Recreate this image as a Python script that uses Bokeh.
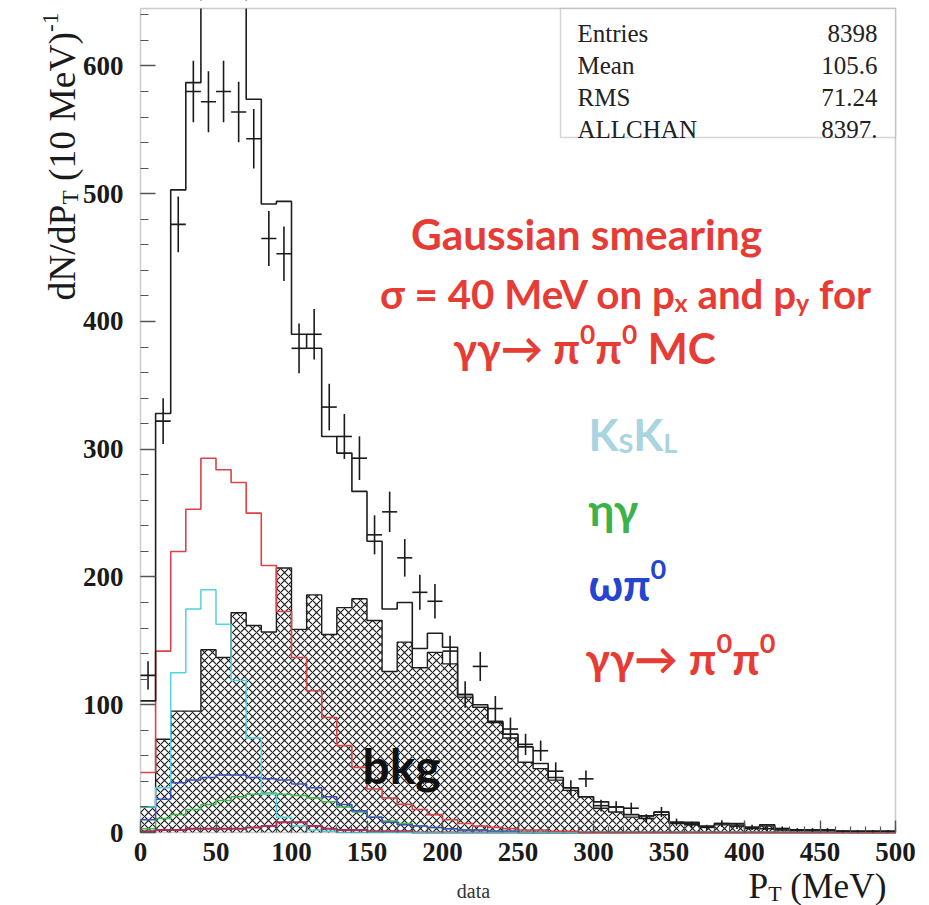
import glob, math, os, subprocess
from bokeh.plotting import figure
from bokeh.models import Label, BoxAnnotation, FixedTicker, Range1d
from bokeh.embed import file_html
from bokeh.resources import INLINE

# ---------------- data (10 MeV bins, 0..500 MeV) ----------------
bin_edges = list(range(0, 510, 10))

data_counts = [123, 322, 476, 580, 572, 580, 564, 543, 465, 453,
               379, 390, 333, 310, 293, 233, 251, 215, 188, 181,
               142, 108, 130, 97, 81, 69, 64, 48, 35, 42,
               21, 20, 19, 11, 16, 8, 6, 4, 7, 5,
               4, 3, 3, 2, 2, 2, 1, 1, 1, 1]

total_mc = [103, 328, 503, 587, 700, 670, 655, 574, 492, 494,
            390, 379, 310, 297, 267, 228, 175, 180, 144, 156,
            145, 108, 100, 87, 77, 67, 54, 43, 35, 28,
            24, 20, 14, 13, 16, 8, 8, 5, 7, 7,
            4, 6, 3, 2, 2, 2, 1, 1, 1, 1]

bkg = [20, 73, 95, 95, 143, 137, 172, 162, 157, 207,
       159, 186, 155, 176, 183, 166, 126, 149, 129, 141,
       132, 106, 98, 86, 74, 55, 50, 41, 33, 28,
       19, 16, 12, 13, 14, 7, 7, 4, 6, 6,
       3, 5, 2, 2, 1, 1, 1, 0, 0, 0]

gg_pi0pi0 = [47, 142, 220, 253, 293, 284, 274, 250, 209, 173,
             137, 111, 90, 68, 51, 34, 27, 22, 18, 14,
             10, 7, 5, 4, 3, 2, 2, 1, 1, 0,
             0, 0, 0, 0, 0, 0, 0, 0, 0, 0,
             0, 0, 0, 0, 0, 0, 0, 0, 0, 0]

ks_kl = [20, 35, 125, 175, 190, 163, 119, 74, 30, 12,
         5, 2, 1, 0, 0, 0, 0, 0, 0, 0,
         0, 0, 0, 0, 0, 0, 0, 0, 0, 0,
         0, 0, 0, 0, 0, 0, 0, 0, 0, 0,
         0, 0, 0, 0, 0, 0, 0, 0, 0, 0]

omega_pi0 = [10, 26, 39, 41, 43, 45, 45, 43, 42, 41,
             38, 35, 28, 22, 17, 12, 8, 6, 5, 4,
             3, 2, 2, 1, 1, 0, 0, 0, 0, 0,
             0, 0, 0, 0, 0, 0, 0, 0, 0, 0,
             0, 0, 0, 0, 0, 0, 0, 0, 0, 0]

eta_gamma = [3, 11, 14, 18, 22, 25, 28, 30, 31, 30,
             29, 27, 24, 20, 16, 12, 9, 7, 5, 4,
             3, 2, 2, 1, 1, 0, 0, 0, 0, 0,
             0, 0, 0, 0, 0, 0, 0, 0, 0, 0,
             0, 0, 0, 0, 0, 0, 0, 0, 0, 0]

other_bkg = [1, 2, 2, 3, 3, 3, 3, 4, 5, 8,
             8, 5, 3, 2, 2, 1, 1, 1, 0, 0,
             0, 0, 0, 0, 0, 0, 0, 0, 0, 0,
             0, 0, 0, 0, 0, 0, 0, 0, 0, 0,
             0, 0, 0, 0, 0, 0, 0, 0, 0, 0]

x_major_ticks = [0, 50, 100, 150, 200, 250, 300, 350, 400, 450, 500]
y_major_ticks = [0, 100, 200, 300, 400, 500, 600]
stats_names = ["Entries", "Mean", "RMS", "ALLCHAN"]
stats_values = ["8398", "105.6", "71.24", "8397."]

# ---------------- layout ----------------
W, H = 929, 905
FL, FR, FT, FB = 140, 34, 8, 73          # pixel position of the ROOT frame
FRAME_W = W - FL - FR
FRAME_H = H - FT - FB
X_LO, X_HI = 0, 500
Y_LO, Y_HI = 0, 645
XU = (X_HI - X_LO) / FRAME_W   # data units per pixel
YU = (Y_HI - Y_LO) / FRAME_H
X_START, X_END = X_LO - FL * XU, X_HI + FR * XU
Y_START, Y_END = Y_LO - FB * YU, Y_HI + FT * YU


def sx2x(sx):
    return X_START + sx * XU


def sy2y(sy):
    return Y_END - sy * YU


# ---------------- text measuring ----------------
FONT_FILES = {
    ("Lato", "bold"): ["Lato-Bold.ttf", "Lato-Bol.ttf"],
    ("Liberation Serif", "normal"): ["LiberationSerif-Regular.ttf"],
    ("Liberation Serif", "bold"): ["LiberationSerif-Bold.ttf"],
}
_font_cache = {}


def _font(family, style):
    key = (family, style)
    if key in _font_cache:
        return _font_cache[key]
    f = None
    try:
        from PIL import ImageFont
        path = None
        for name in FONT_FILES.get(key, []):
            for root in ["/usr/share/fonts", "/usr/local/share/fonts",
                         os.path.expanduser("~/.fonts"), os.path.expanduser("~/.local/share/fonts")]:
                hits = glob.glob(os.path.join(root, "**", name), recursive=True)
                if hits:
                    path = hits[0]
                    break
            if path:
                break
        if path is None:
            try:
                q = family + (":bold" if style == "bold" else "")
                path = subprocess.run(["fc-match", "-f", "%{file}", q], capture_output=True,
                                      text=True, timeout=5).stdout.strip() or None
            except Exception:
                path = None
        if path:
            f = ImageFont.truetype(path, 100)
    except Exception:
        f = None
    _font_cache[key] = f
    return f


def measure(text, family, style, size):
    f = _font(family, style)
    if f is not None:
        try:
            return f.getlength(text) * size / 100.0
        except Exception:
            pass
    return sum(0.27 if c == " " else 0.55 for c in text) * size


p = figure(width=W, height=H, min_border=0,
           x_range=Range1d(X_START, X_END), y_range=Range1d(Y_START, Y_END),
           output_backend="svg", toolbar_location=None,
           background_fill_color="white", border_fill_color="white")
p.outline_line_color = None

SUB = 0.62


def psize(size, kind):
    return size * SUB if kind in ("sub", "sup") else size


def rich_width(pieces, family, style, size):
    return sum(measure(t, family, style, psize(size, k)) for t, k in pieces)


def rich(pieces, sx, sy, size, family, style, color, vertical=False):
    cur = 0.0
    for t, k in pieces:
        s = psize(size, k)
        shift = 0.20 * size if k == "sub" else (-0.31 * size if k == "sup" else 0.0)
        core = t.strip()
        lead = t[:len(t) - len(t.lstrip())]
        off = measure(lead, family, style, s) if lead else 0.0
        if vertical:
            ax, ay, ang = sx + shift, sy - cur - off, math.pi / 2
        else:
            ax, ay, ang = sx + cur + off, sy + shift, 0.0
        if core:
            p.add_layout(Label(x=sx2x(ax), y=sy2y(ay), text=core, angle=ang,
                               text_font=family, text_font_style=style,
                               text_font_size=f"{s:.1f}px", text_color=color,
                               text_align="left", text_baseline="alphabetic"))
        cur += measure(t, family, style, s)


def fit(pieces, family, style, target, base):
    w = rich_width(pieces, family, style, base)
    return base * target / w if w > 0 else base


# ---------------- histograms ----------------
centers = [e + 5 for e in bin_edges[:-1]]


def step(vals, color, width):
    p.step(x=bin_edges, y=list(vals) + [vals[-1]], mode="after",
           line_color=color, line_width=width)


p.vbar(x=centers, width=10, top=bkg, bottom=0, fill_color=None, line_color=None,
       hatch_pattern="x", hatch_scale=8, hatch_weight=1.15, hatch_color="#1a1a1a")
step(bkg, "#1e1e1e", 1.4)
step(other_bkg, "#b02a5a", 2.0)
step(eta_gamma, "#3dbb4a", 1.5)
step(omega_pi0, "#3a4fc0", 1.5)
step(ks_kl, "#52d4da", 1.5)
step(gg_pi0pi0, "#d9434a", 1.6)
step(total_mc, "#1e1e1e", 1.6)

lo = bin_edges[:-1]
hi = bin_edges[1:]
keep = [i for i, v in enumerate(data_counts) if v > 0]
p.segment(x0=[lo[i] for i in keep], x1=[hi[i] for i in keep],
          y0=[data_counts[i] for i in keep], y1=[data_counts[i] for i in keep],
          line_color="#1a1a1a", line_width=1.6)
p.segment(x0=[centers[i] for i in keep], x1=[centers[i] for i in keep],
          y0=[data_counts[i] - math.sqrt(data_counts[i]) for i in keep],
          y1=[data_counts[i] + math.sqrt(data_counts[i]) for i in keep],
          line_color="#1a1a1a", line_width=1.6)

# mask anything that overshoots the top of the frame
p.add_layout(BoxAnnotation(left=X_START, right=X_END, bottom=Y_HI, top=Y_END,
                           fill_color="white", fill_alpha=1.0, line_color=None))
# frame
p.add_layout(BoxAnnotation(left=X_LO, right=X_HI, bottom=Y_LO, top=Y_HI,
                           fill_alpha=0.0, line_color="#555555", line_width=1.5))

# ---------------- axes ----------------
p.xgrid.visible = False
p.ygrid.visible = False
p.xaxis.fixed_location = 0
p.yaxis.fixed_location = 0
p.xaxis.ticker = FixedTicker(ticks=x_major_ticks, minor_ticks=list(range(0, 501, 10)))
p.yaxis.ticker = FixedTicker(ticks=y_major_ticks, minor_ticks=list(range(0, 645, 20)))
for ax in (p.xaxis[0], p.yaxis[0]):
    ax.axis_line_color = None
    ax.major_tick_line_color = "#555555"
    ax.minor_tick_line_color = "#555555"
    ax.major_tick_line_width = 1.4
    ax.minor_tick_line_width = 1.2
    ax.major_tick_out = 0
    ax.minor_tick_out = 0
    ax.major_label_text_font = "Liberation Serif"
    ax.major_label_text_font_style = "bold"
    ax.major_label_text_font_size = "27px"
    ax.major_label_text_color = "#1a1a1a"
p.xaxis.major_tick_in = 12
p.xaxis.minor_tick_in = 6
p.yaxis.major_tick_in = 15
p.yaxis.minor_tick_in = 8
p.xaxis.major_label_standoff = 10
p.yaxis.major_label_standoff = 17

# axis titles
ylab = [("dN/dP", "n"), ("T", "sub"), (" (10 MeV)", "n"), ("-1", "sup")]
ys = fit(ylab, "Liberation Serif", "normal", 288, 36)
ys = max(30, min(ys, 40))
rich(ylab, 62, 300, ys, "Liberation Serif", "normal", "#1a1a1a", vertical=True)

xlab = [("P", "n"), ("T", "sub"), (" (MeV)", "n")]
xs = fit(xlab, "Liberation Serif", "normal", 138, 36)
xs = max(30, min(xs, 42))
rich(xlab, 748, 886, xs, "Liberation Serif", "normal", "#1a1a1a")

p.add_layout(Label(x=sx2x(473), y=sy2y(890), text="data", text_font="Liberation Serif",
                   text_font_size="20px", text_color="#333333", text_align="center",
                   text_baseline="alphabetic"))

# ---------------- stats box ----------------
p.add_layout(BoxAnnotation(left=sx2x(560), right=X_HI, top=Y_HI, bottom=sy2y(137),
                           fill_color="white", fill_alpha=1.0, line_color="#777777",
                           line_width=1.5))
for i, (nm, vl) in enumerate(zip(stats_names, stats_values)):
    base = 33 + i * 32
    p.add_layout(Label(x=sx2x(577), y=sy2y(base), text=nm, text_font="Liberation Serif",
                       text_font_size="25px", text_color="#222222", text_align="left",
                       text_baseline="alphabetic"))
    p.add_layout(Label(x=sx2x(877), y=sy2y(base), text=vl, text_font="Liberation Serif",
                       text_font_size="25px", text_color="#222222", text_align="right",
                       text_baseline="alphabetic"))

# ---------------- red annotation block ----------------
RED = "#e63c35"
l1 = [("Gaussian smearing", "n")]
l2 = [("σ = 40 MeV on p", "n"), ("x", "sub"), (" and p", "n"), ("y", "sub"), (" for", "n")]
l3 = [("γγ→ π", "n"), ("0", "sup"), ("π", "n"), ("0", "sup"), (" MC", "n")]
block = [(l1, 373, 586, 233, 1.0), (l2, 466, 625, 293, 0.95), (l3, 272, 584, 347, 1.0)]
fits = [fit(pc, "Lato", "bold", tw, 40) for pc, tw, _, _, _ in block]
ts = sum(fits) / len(fits)
ts = max(30, min(ts, 46))
for pc, tw, cx, by, k in block:
    w = rich_width(pc, "Lato", "bold", ts * k)
    left = min(cx - w / 2, 885 - w)
    rich(pc, left, by, ts * k, "Lato", "bold", RED)

# legend-like labels
leg4 = [("γγ→ π", "n"), ("0", "sup"), ("π", "n"), ("0", "sup")]
ls = fit(leg4, "Lato", "bold", 190, 40)
ls = max(30, min(ls, 44))
rich([("K", "n"), ("S", "sub"), ("K", "n"), ("L", "sub")], 588, 433, ls, "Lato", "bold", "#a8d5df")
rich([("ηγ", "n")], 588, 508, ls, "Lato", "bold", "#3cb34a")
rich([("ωπ", "n"), ("0", "sup")], 588, 583, ls, "Lato", "bold", "#2345d0")
rich(leg4, 585, 657, ls, "Lato", "bold", RED)

bk = [("bkg", "n")]
bs = fit(bk, "Lato", "bold", 78, 44)
bs = max(34, min(bs, 50))
rich(bk, 362, 765, bs, "Lato", "bold", "#111111")

open("out.html", "w").write(file_html(p, INLINE))
